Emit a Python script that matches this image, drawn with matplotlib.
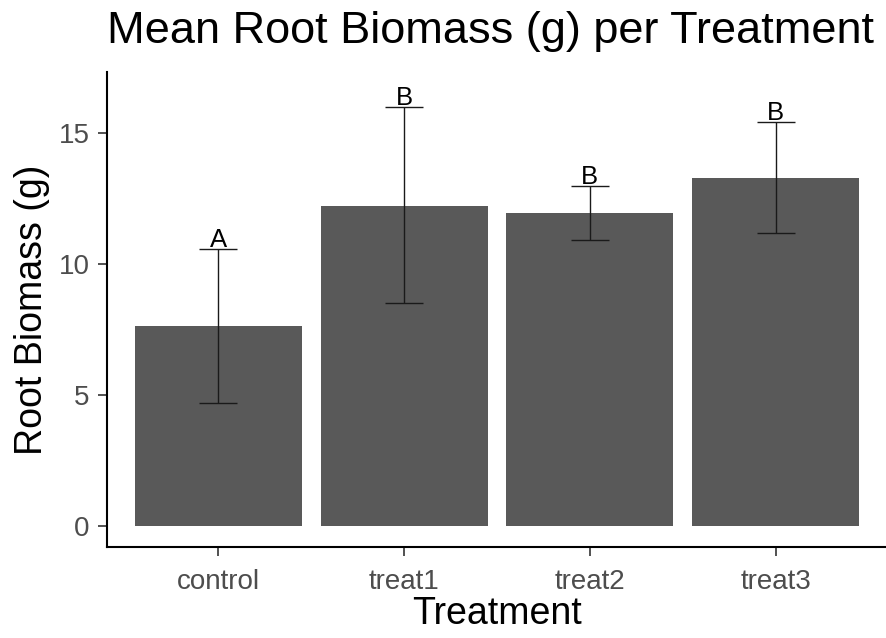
import numpy as np
import matplotlib.pyplot as plt

plt.rcParams['font.family'] = ['Liberation Sans', 'DejaVu Sans']

# data
treatments = ["control", "treat1", "treat2", "treat3"]
mean_biomass = [7.63, 12.22, 11.95, 13.28]
err_low = [2.94, 3.72, 1.02, 2.08]
err_high = [2.94, 3.77, 1.03, 2.14]
letters = ["A", "B", "B", "B"]

fig = plt.figure(figsize=(8.87, 6.38), dpi=100)
ax = fig.add_axes([0.1206, 0.1426, 0.8794, 0.7444])

x = np.arange(1, len(treatments) + 1)
ax.bar(x, mean_biomass, width=0.9, color="#595959", zorder=1)
ax.errorbar(x, mean_biomass, yerr=[err_low, err_high], fmt="none",
            ecolor="#1a1a1a", elinewidth=1.0, capsize=14, capthick=1.0, zorder=2)

for xi, m, eh, lab in zip(x, mean_biomass, err_high, letters):
    ax.text(xi, m + eh - 0.12, lab, ha="center", va="bottom",
            fontsize=18.5, color="black", zorder=3)

ax.set_xlim(0.4, 4.6)
ax.set_ylim(-0.8, 17.33)
ax.set_xticks(x)
ax.set_xticklabels(treatments)
ax.set_yticks([0, 5, 10, 15])

for side in ["top", "right"]:
    ax.spines[side].set_visible(False)
for side in ["left", "bottom"]:
    ax.spines[side].set_linewidth(1.5)
    ax.spines[side].set_color("black")

ax.tick_params(axis="both", colors="#333333", labelcolor="#4d4d4d",
               labelsize=20, length=6.5, width=1.2)
ax.tick_params(axis="x", pad=9)
ax.tick_params(axis="y", pad=6)

ax.set_xlabel("Treatment", fontsize=27, color="black", labelpad=1)
ax.set_ylabel("Root Biomass (g)", fontsize=27, color="black", labelpad=6)
ax.set_title("Mean Root Biomass (g) per Treatment", fontsize=32.5,
             color="black", loc="left", pad=21)

fig.savefig("out.png", dpi=100)
